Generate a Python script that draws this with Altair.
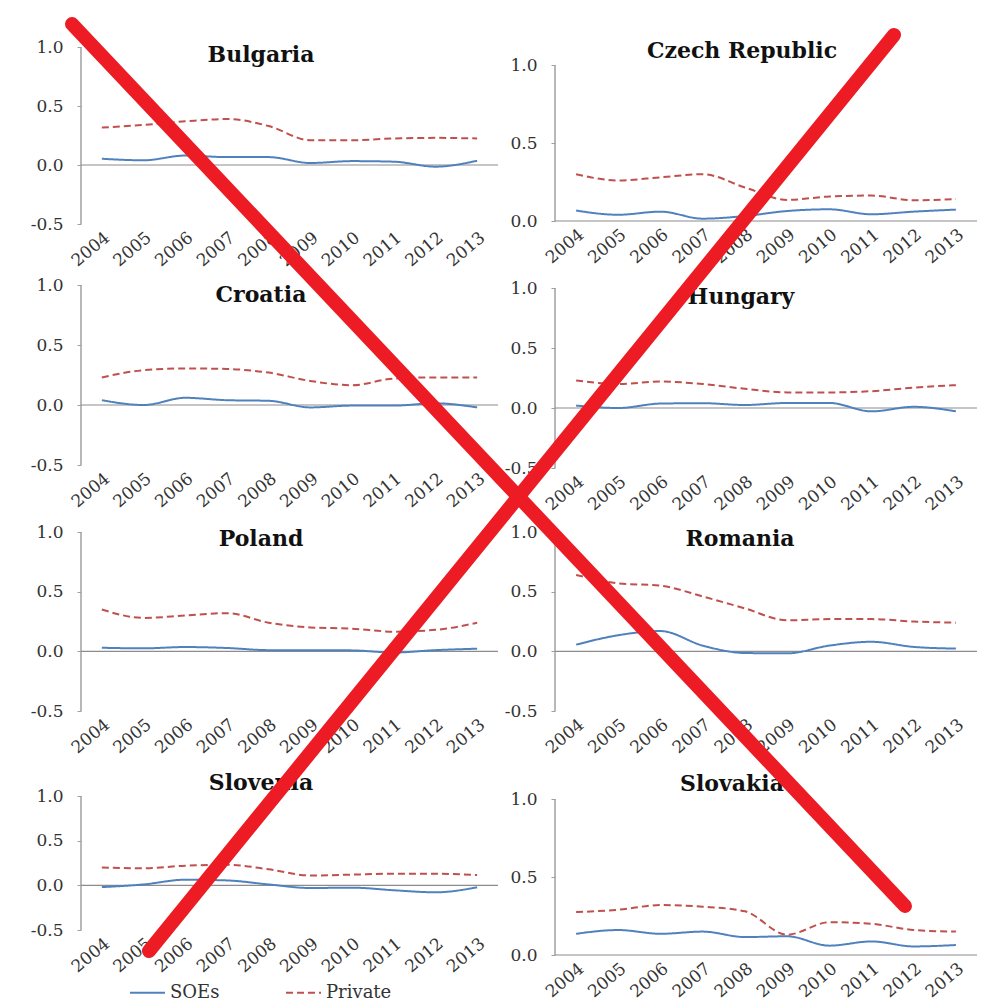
import altair as alt
import pandas as pd

years = ["2004", "2005", "2006", "2007", "2008", "2009", "2010", "2011", "2012", "2013"]
series_names = ["SOEs", "Private"]

bulgaria_soe = [0.053, 0.040, 0.080, 0.067, 0.067, 0.017, 0.033, 0.028, -0.014, 0.036]
bulgaria_private = [0.317, 0.34, 0.37, 0.39, 0.33, 0.21, 0.21, 0.225, 0.23, 0.225]
czech_soe = [0.067, 0.040, 0.060, 0.015, 0.032, 0.064, 0.075, 0.043, 0.060, 0.073]
czech_private = [0.30, 0.26, 0.28, 0.30, 0.215, 0.135, 0.157, 0.163, 0.133, 0.14]
croatia_soe = [0.04, 0.0, 0.06, 0.04, 0.035, -0.02, -0.005, -0.005, 0.014, -0.02]
croatia_private = [0.23, 0.29, 0.305, 0.30, 0.27, 0.20, 0.165, 0.22, 0.23, 0.23]
hungary_soe = [0.02, 0.0, 0.037, 0.04, 0.025, 0.042, 0.042, -0.028, 0.01, -0.028]
hungary_private = [0.23, 0.20, 0.22, 0.20, 0.16, 0.13, 0.13, 0.14, 0.17, 0.19]
poland_soe = [0.03, 0.025, 0.036, 0.028, 0.01, 0.01, 0.008, -0.01, 0.01, 0.022]
poland_private = [0.35, 0.28, 0.30, 0.32, 0.24, 0.20, 0.19, 0.165, 0.18, 0.24]
romania_soe = [0.056, 0.135, 0.17, 0.048, -0.014, -0.017, 0.048, 0.08, 0.037, 0.023]
romania_private = [0.64, 0.57, 0.55, 0.46, 0.36, 0.26, 0.27, 0.27, 0.25, 0.24]
slovenia_soe = [-0.02, 0.01, 0.063, 0.055, 0.01, -0.03, -0.026, -0.055, -0.078, -0.022]
slovenia_private = [0.20, 0.19, 0.22, 0.23, 0.18, 0.11, 0.12, 0.13, 0.13, 0.115]
slovakia_soe = [0.136, 0.16, 0.136, 0.15, 0.115, 0.12, 0.06, 0.087, 0.055, 0.064]
slovakia_private = [0.275, 0.29, 0.32, 0.31, 0.28, 0.13, 0.21, 0.20, 0.16, 0.15]

# red cross-out annotation: pixel offsets relative to the last (Slovakia) cell
cross_lines = [(-483, -748, 350, 134), (339, -737, -406, 179)]

FONT = "DejaVu Serif"
BLUE = "#4F81BD"
RED = "#C0504D"
AXIS_GRAY = "#A0A0A0"
LABEL_COLOR = "#333333"

legend_def = alt.Legend(
    orient="none", legendX=48, legendY=927, direction="horizontal", title=None,
    labelFont=FONT, labelFontSize=18, labelColor=LABEL_COLOR, symbolSize=1225,
    symbolStrokeWidth=2, labelOffset=4, columnPadding=62, padding=0,
)


def long_df(soe, priv):
    rows = []
    for y, a, b in zip(years, soe, priv):
        rows.append({"year": y, "series": "SOEs", "value": a})
        rows.append({"year": y, "series": "Private", "value": b})
    return pd.DataFrame(rows)


def panel(name, soe, priv, ymin, width, plot_h, extra_top, title_x, title_y, cross=False):
    ticks = [-0.5, 0.0, 0.5, 1.0] if ymin < 0 else [0.0, 0.5, 1.0]
    ymax = 1.0 + extra_top * (1.0 - ymin) / plot_h
    yscale = alt.Scale(domain=[ymin, ymax], nice=False, zero=False)
    df = long_df(soe, priv)
    lines = alt.Chart(df).mark_line(interpolate="monotone", strokeWidth=2).encode(
        x=alt.X("year:O", scale=alt.Scale(type="point", padding=0.5),
                axis=alt.Axis(title=None, labelAngle=-40, domain=False, ticks=False,
                              labelFont=FONT, labelFontSize=17, labelColor=LABEL_COLOR,
                              labelPadding=5)),
        y=alt.Y("value:Q", scale=yscale,
                axis=alt.Axis(title=None, values=ticks, grid=False, domain=False,
                              labelExpr="datum.value < 0 ? '-' + format(-datum.value, '.1f') : format(datum.value, '.1f')",
                              labelFont=FONT, labelFontSize=17, labelColor=LABEL_COLOR,
                              tickColor=AXIS_GRAY, tickSize=4, labelPadding=14)),
        color=alt.Color("series:N", scale=alt.Scale(domain=series_names, range=[BLUE, RED]),
                        legend=legend_def),
        strokeDash=alt.StrokeDash("series:N",
                                  scale=alt.Scale(domain=series_names, range=[[1, 0], [7, 4]]),
                                  legend=legend_def),
        order=alt.Order("year:O"),
    )
    yaxis_line = alt.Chart(pd.DataFrame({"lo": [ymin], "hi": [1.0]})).mark_rule(
        color=AXIS_GRAY, strokeWidth=1.5
    ).encode(x=alt.value(0), y=alt.Y("lo:Q", scale=yscale), y2="hi:Q")
    zero = alt.Chart(pd.DataFrame({"v": [0.0]})).mark_rule(color="#8c8c8c", strokeWidth=1.2).encode(
        y=alt.Y("v:Q", scale=yscale)
    )
    title = alt.Chart(pd.DataFrame({"t": [name]})).mark_text(
        font=FONT, fontSize=22, fontWeight="bold", color="#111111", baseline="alphabetic"
    ).encode(text="t:N", x=alt.value(title_x), y=alt.value(extra_top + title_y))
    layers = [yaxis_line, zero, lines, title]
    if cross:
        for (x1, y1, x2, y2) in cross_lines:
            layers.append(
                alt.Chart(pd.DataFrame({"k": [0]})).mark_rule(
                    color="#ED1C24", strokeWidth=14, strokeCap="round"
                ).encode(x=alt.value(x1), y=alt.value(y1), x2=alt.value(x2), y2=alt.value(y2))
            )
    return alt.layer(*layers).properties(width=width, height=plot_h + extra_top)


LW, RW = 417, 422

cells = [
    panel("Bulgaria", bulgaria_soe, bulgaria_private, -0.5, LW, 177, 0, 180, 15),
    panel("Czech Republic", czech_soe, czech_private, 0.0, RW, 156, 18, 187, -7),
    panel("Croatia", croatia_soe, croatia_private, -0.5, LW, 180, 0, 180, 17),
    panel("Hungary", hungary_soe, hungary_private, -0.5, RW, 180, 3, 186, 16),
    panel("Poland", poland_soe, poland_private, -0.5, LW, 179, 3, 180, 14),
    panel("Romania", romania_soe, romania_private, -0.5, RW, 179, 3, 185, 14),
    panel("Slovenia", slovenia_soe, slovenia_private, -0.5, LW, 134, 24, 180, -6),
    panel("Slovakia", slovakia_soe, slovakia_private, 0.0, RW, 156, 27, 177, -8, cross=True),
]

chart = alt.ConcatChart(
    concat=cells, columns=2, align="none", bounds="flush",
    spacing=alt.RowColnumber(row=61, column=57),
).resolve_scale(
    x="independent", y="independent"
).properties(
    padding={"left": 30, "top": 17, "right": 5, "bottom": 5},
    background="white",
).configure_view(stroke=None)

chart.save("out.html", embed_options={"renderer": "svg", "actions": False})
